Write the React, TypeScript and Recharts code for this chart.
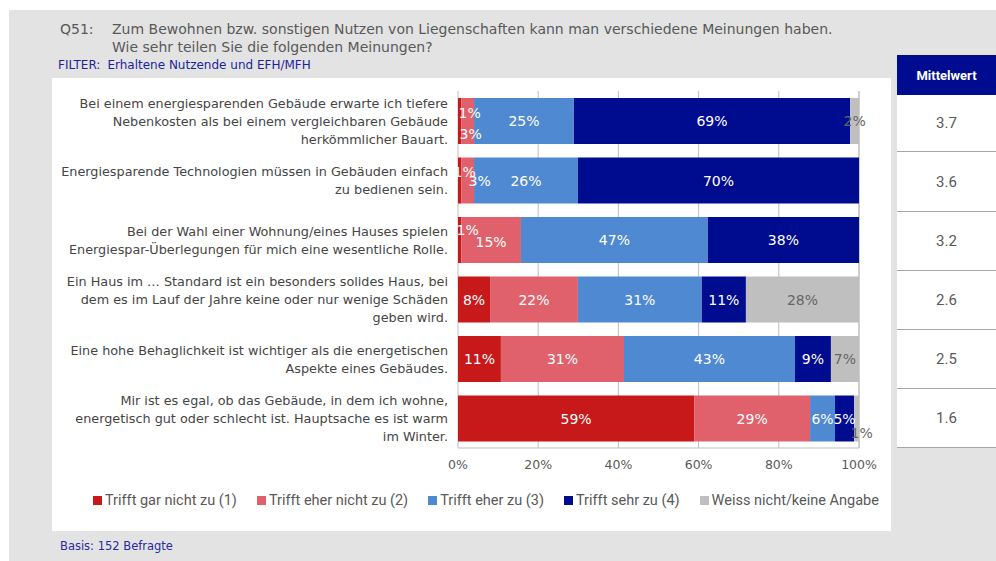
import { BarChart, Bar, XAxis, YAxis, CartesianGrid, LabelList } from 'recharts'

const categories = [
  'Bei einem energiesparenden Gebäude erwarte ich tiefere\nNebenkosten als bei einem vergleichbaren Gebäude\nherkömmlicher Bauart.',
  'Energiesparende Technologien müssen in Gebäuden einfach\nzu bedienen sein.',
  'Bei der Wahl einer Wohnung/eines Hauses spielen\nEnergiespar-Überlegungen für mich eine wesentliche Rolle.',
  'Ein Haus im … Standard ist ein besonders solides Haus, bei\ndem es im Lauf der Jahre keine oder nur wenige Schäden\ngeben wird.',
  'Eine hohe Behaglichkeit ist wichtiger als die energetischen\nAspekte eines Gebäudes.',
  'Mir ist es egal, ob das Gebäude, in dem ich wohne,\nenergetisch gut oder schlecht ist. Hauptsache es ist warm\nim Winter.',
]

const garNicht = [0.8, 0.8, 0.8, 8.0, 10.7, 58.9]
const eherNicht = [3.2, 3.2, 14.9, 21.9, 30.7, 28.9]
const eherZu = [24.9, 25.9, 46.6, 30.9, 42.6, 6.2]
const sehrZu = [68.9, 70.1, 37.7, 11.0, 9.0, 4.8]
const weissNicht = [2.2, 0, 0, 28.2, 7.0, 1.2]

const mittelwert = ['3.7', '3.6', '3.2', '2.6', '2.5', '1.6']
const xTicks = [0, 20, 40, 60, 80, 100]

const series = [
  { key: 'gar', name: 'Trifft gar nicht zu (1)', color: '#c8191a', text: '#ffffff', values: garNicht },
  { key: 'eherNicht', name: 'Trifft eher nicht zu (2)', color: '#e0616b', text: '#ffffff', values: eherNicht },
  { key: 'eherZu', name: 'Trifft eher zu (3)', color: '#4f89d2', text: '#ffffff', values: eherZu },
  { key: 'sehr', name: 'Trifft sehr zu (4)', color: '#000c8f', text: '#ffffff', values: sehrZu },
  { key: 'weiss', name: 'Weiss nicht/keine Angabe', color: '#bfbfbf', text: '#666666', values: weissNicht },
]

const data = categories.map((name, i) => {
  const row: Record<string, string | number> = { name }
  series.forEach((s) => {
    row[s.key] = s.values[i]
  })
  return row
})

// small segments: labels pushed off-center like in the original
const nudge: Record<string, [number, number]> = {
  'gar-0': [10, -8],
  'eherNicht-0': [3, 13],
  'gar-1': [5, -9],
  'eherNicht-1': [12, 0],
  'gar-2': [8, -10],
  'eherNicht-2': [0, 2],
  'weiss-5': [5, 14],
}

const FONT = 'Roboto, "Liberation Sans", sans-serif'
const WIDE = '"DejaVu Sans", Verdana, sans-serif'

function makeLabel(key: string, color: string, values: number[]) {
  // zero-width bars may be skipped, so map the label index back to the row
  const visible = values.map((v, i) => (v ? i : -1)).filter((i) => i >= 0)
  return (props: any) => {
    const { x, y, width, height, value, index } = props
    if (!value) return null
    const row = values[index] === Number(value) ? index : visible[index]
    const [dx, dy] = nudge[`${key}-${row}`] ?? [0, 0]
    return (
      <text
        x={Number(x) + Number(width) / 2 + dx}
        y={Number(y) + Number(height) / 2 + dy}
        textAnchor="middle"
        dominantBaseline="central"
        fill={color}
        fontSize={14}
        fontFamily={WIDE}
      >
        {Math.round(Number(value))}%
      </text>
    )
  }
}

function CategoryTick(props: any) {
  const { x, y, payload } = props
  const lines = String(payload.value).split('\n')
  const lh = 18
  const startY = y - ((lines.length - 1) * lh) / 2
  return (
    <text
      x={x}
      y={startY}
      textAnchor="end"
      fill="#454545"
      fontSize={12.8}
      fontFamily={WIDE}
      dominantBaseline="central"
    >
      {lines.map((l, i) => (
        <tspan key={i} x={x} y={startY + i * lh}>
          {l}
        </tspan>
      ))}
    </text>
  )
}

const rowHeights = [57, 60, 59, 59, 59, 59]

export default function App() {
  return (
    <div style={{ position: 'relative', width: 996, height: 561, fontFamily: FONT, overflow: 'hidden' }}>
      <style>{'body{margin:0}'}</style>
      {/* gray page */}
      <div style={{ position: 'absolute', left: 9, top: 10, right: 0, bottom: 0, background: '#e3e3e3' }} />

      {/* Title */}
      <div style={{ position: 'absolute', left: 60, top: 20, fontSize: 14, fontFamily: WIDE, color: '#595959', lineHeight: '18px' }}>
        Q51:
      </div>
      <div
        style={{
          position: 'absolute',
          left: 112,
          top: 20,
          fontSize: 14,
          fontFamily: WIDE,
          color: '#595959',
          lineHeight: '18px',
          whiteSpace: 'nowrap',
        }}
      >
        Zum Bewohnen bzw. sonstigen Nutzen von Liegenschaften kann man verschiedene Meinungen haben.
        <br />
        Wie sehr teilen Sie die folgenden Meinungen?
      </div>
      <div style={{ position: 'absolute', left: 58, top: 58, fontSize: 12, fontFamily: WIDE, color: '#1f1f9c', whiteSpace: 'nowrap' }}>
        FILTER:<span style={{ marginLeft: 7 }}>Erhaltene Nutzende und EFH/MFH</span>
      </div>

      {/* White chart panel */}
      <div style={{ position: 'absolute', left: 52, top: 78, width: 839, height: 453, background: '#ffffff' }}>
        <BarChart
          width={839}
          height={400}
          data={data}
          layout="vertical"
          margin={{ top: 13, right: 32, bottom: 0, left: 0 }}
        >
          <CartesianGrid horizontal={false} stroke="#bfbfbf" />
          <XAxis
            type="number"
            domain={[0, 100]}
            ticks={xTicks}
            tickFormatter={(v: number) => `${v}%`}
            tick={{ fontSize: 12.5, fill: '#595959', fontFamily: WIDE }}
            tickLine={false}
            tickSize={0}
            tickMargin={12}
            axisLine={{ stroke: '#bfbfbf' }}
            height={30}
            interval={0}
          />
          <XAxis
            xAxisId="top"
            orientation="top"
            type="number"
            domain={[0, 100]}
            tick={false}
            tickLine={false}
            axisLine={{ stroke: '#bfbfbf' }}
            height={0}
          />
          <YAxis
            type="category"
            dataKey="name"
            width={406}
            tickLine={false}
            axisLine={false}
            tickSize={0}
            tickMargin={10}
            tick={<CategoryTick />}
            interval={0}
          />
          {series.map((s) => (
            <Bar
              key={s.key}
              dataKey={s.key}
              name={s.name}
              stackId="a"
              fill={s.color}
              barSize={46}
              isAnimationActive={false}
            >
              <LabelList dataKey={s.key} content={makeLabel(s.key, s.text, s.values)} />
            </Bar>
          ))}
        </BarChart>

        {/* Legend */}
        <div
          style={{
            position: 'absolute',
            left: 41,
            top: 414,
            display: 'flex',
            gap: 20,
            fontSize: 14.5,
            color: '#595959',
            whiteSpace: 'nowrap',
          }}
        >
          {series.map((s) => (
            <div key={s.key} style={{ display: 'flex', alignItems: 'center', gap: 3 }}>
              <span style={{ width: 9, height: 9, background: s.color, display: 'inline-block' }} />
              <span>{s.name}</span>
            </div>
          ))}
        </div>
      </div>

      {/* Mittelwert table */}
      <div style={{ position: 'absolute', left: 897, top: 55, width: 99 }}>
        <div
          style={{
            height: 40,
            background: '#000c8f',
            color: '#ffffff',
            fontWeight: 'bold',
            fontSize: 13,
            display: 'flex',
            alignItems: 'center',
            justifyContent: 'center',
          }}
        >
          Mittelwert
        </div>
        {mittelwert.map((m, i) => (
          <div
            key={i}
            style={{
              height: rowHeights[i] - 1,
              background: '#ffffff',
              borderBottom: '1px solid #a6a6a6',
              display: 'flex',
              alignItems: 'center',
              justifyContent: 'center',
              fontSize: 15,
              color: '#595959',
            }}
          >
            {m}
          </div>
        ))}
      </div>

      <div style={{ position: 'absolute', left: 60, top: 539, fontSize: 11.5, fontFamily: WIDE, color: '#2a2aa0' }}>
        Basis: 152 Befragte
      </div>
    </div>
  )
}
